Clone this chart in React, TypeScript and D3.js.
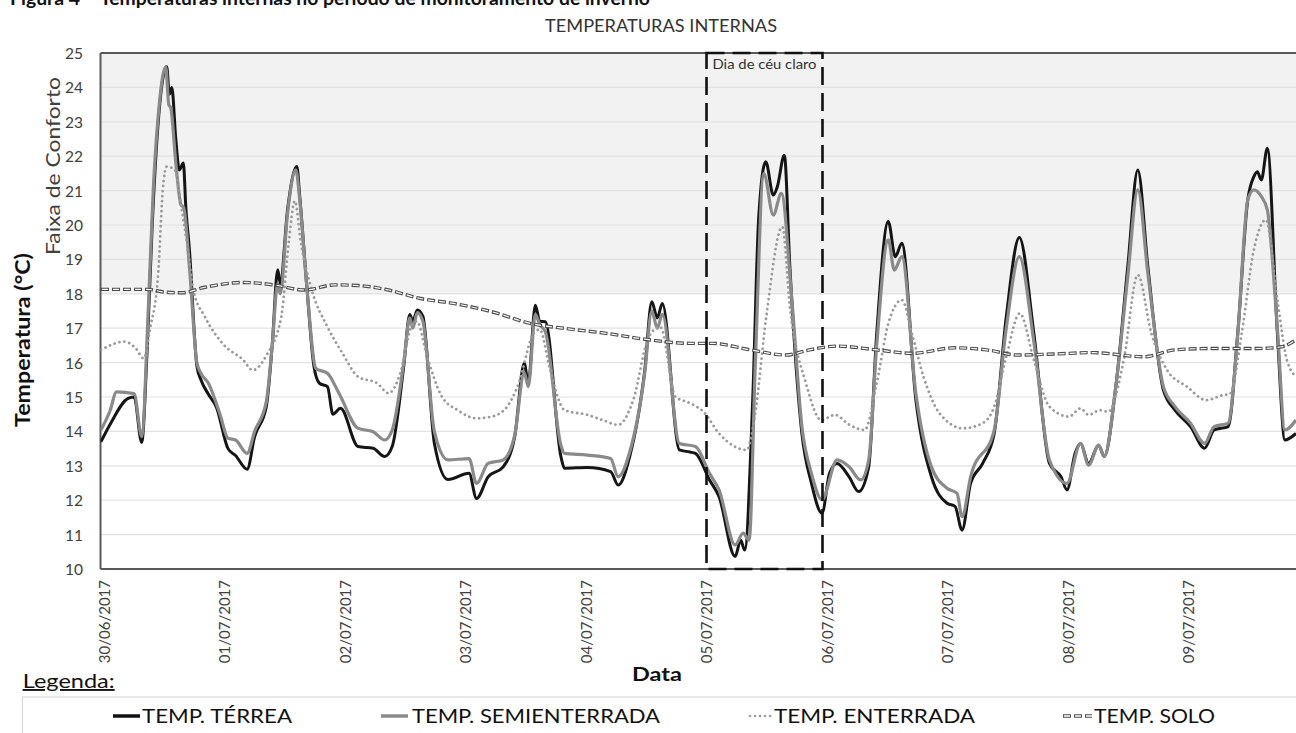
import React from "react";
import * as d3 from "d3";

const W = 1296;
const H = 733;

// Date tick labels (one per day, hours since 30/06/2017 00:00 = index*24)
const dateLabels = [
  "30/06/2017", "01/07/2017", "02/07/2017", "03/07/2017", "04/07/2017",
  "05/07/2017", "06/07/2017", "07/07/2017", "08/07/2017", "09/07/2017",
];
const yTicks = [10, 11, 12, 13, 14, 15, 16, 17, 18, 19, 20, 21, 22, 23, 24, 25];
const comfortMin = 18;
const comfortMax = 25;
// "Dia de céu claro" window, hours since start
const clearDay = [120.6, 143.7];

// [hours since 30/06/2017 00:00, °C]
const terrea: [number, number][] = [
  [0, 13.7], [1.8, 14.2], [5.4, 14.96], [6.6, 15.0], [8.1, 13.68], [9.2, 16.4], [10.2, 20.0],
  [11.4, 23.0], [13.1, 24.6], [13.6, 23.8], [14.1, 24.0], [14.9, 22.5], [15.6, 21.6], [16.4, 21.8],
  [16.9, 20.5], [17.6, 19.3], [19.1, 15.9], [19.9, 15.5], [21.3, 15.1], [23.0, 14.7], [25.3, 13.5],
  [26.8, 13.3], [29.1, 12.9], [30.6, 13.85], [32.9, 14.7], [34.1, 16.5], [35.2, 18.7], [35.7, 18.3],
  [37.2, 20.5], [39.0, 21.7], [39.6, 20.8], [41.0, 18.2], [42.4, 15.9], [43.5, 15.4], [45.1, 15.3],
  [46.2, 14.5], [47.7, 14.67], [51.2, 13.56], [54.2, 13.51], [56.5, 13.27], [58.0, 13.56],
  [60.3, 15.9], [61.5, 17.4], [62.1, 17.2], [63.0, 17.53], [64.1, 17.35], [66.4, 13.65],
  [69.1, 12.6], [73.3, 12.78], [74.8, 12.05], [77.1, 12.68], [80.1, 12.97], [82.4, 13.85],
  [84.3, 15.98], [85.1, 15.4], [86.5, 17.67], [87.4, 17.2], [88.5, 17.19], [91.6, 13.27],
  [92.3, 12.93], [96.9, 12.95], [101.5, 12.83], [103.0, 12.44], [105.3, 13.27], [108.3, 15.78],
  [109.7, 17.77], [110.8, 17.3], [111.8, 17.72], [115.2, 13.46], [117.3, 13.4], [118.4, 13.36],
  [121.2, 12.59], [123.1, 12.1], [126.3, 10.36], [127.4, 10.84], [128.2, 10.55], [129.8, 14.91],
  [131.0, 20.24], [132.4, 21.84], [133.9, 20.87], [134.7, 21.11], [136.1, 22.03], [137.2, 18.79],
  [139.6, 13.94], [141.5, 12.49], [143.6, 11.62], [145.1, 12.78], [146.6, 13.07], [149.0, 12.68],
  [150.9, 12.25], [152.9, 12.97], [154.5, 16.85], [156.8, 20.1], [158.2, 19.08], [159.5, 19.47],
  [162.3, 14.91], [165.4, 12.68], [168.5, 11.91], [170.1, 11.82], [171.5, 11.13], [173.2, 12.49],
  [175.6, 13.07], [177.9, 13.94], [180.3, 17.33], [182.9, 19.64], [185.8, 16.85], [188.9, 13.07],
  [191.2, 12.68], [192.4, 12.3], [194.0, 13.36], [195.1, 13.65], [196.7, 13.07], [198.7, 13.6],
  [199.8, 13.27], [202.2, 15.4], [204.5, 18.79], [206.5, 21.6], [208.5, 18.79], [211.6, 15.2],
  [213.9, 14.62], [217.0, 14.14], [219.8, 13.51], [221.7, 14.04], [224.5, 14.14], [226.4, 16.85],
  [228.4, 20.73], [229.6, 21.4], [230.3, 21.55], [231.1, 21.31], [232.3, 22.23], [234.3, 16.85],
  [235.8, 13.75], [238.0, 13.94],
];

const semienterrada: [number, number][] = [
  [0, 14.04], [1.8, 14.6], [3.1, 15.15], [6.6, 15.1], [8.1, 13.85], [9.4, 17.5], [10.4, 21.0],
  [11.6, 23.5], [12.9, 24.6], [13.5, 23.5], [13.9, 23.4], [14.9, 21.8], [15.9, 20.6], [16.5, 20.5],
  [17.7, 18.6], [19.1, 16.0], [19.9, 15.69], [21.4, 15.4], [23.7, 14.5], [25.3, 13.8], [26.8, 13.75],
  [29.1, 13.36], [30.6, 14.0], [32.9, 14.85], [34.1, 16.5], [35.2, 18.3], [35.7, 18.0], [37.2, 20.4],
  [38.8, 21.6], [39.6, 20.7], [41.0, 18.2], [42.8, 15.83], [45.1, 15.69], [47.4, 15.11], [51.2, 14.09],
  [54.2, 13.99], [56.5, 13.75], [58.0, 14.04], [60.3, 16.0], [61.5, 17.3], [62.1, 17.0], [63.0, 17.45],
  [64.1, 17.2], [66.4, 14.0], [69.1, 13.17], [73.3, 13.21], [74.8, 12.49], [77.1, 13.07], [80.1, 13.17],
  [82.4, 13.9], [84.3, 15.7], [85.1, 15.3], [86.5, 17.4], [87.4, 17.1], [88.5, 16.9], [91.6, 13.6],
  [92.3, 13.36], [96.9, 13.31], [101.5, 13.21], [103.0, 12.68], [105.3, 13.4], [108.3, 15.7],
  [109.7, 17.5], [110.8, 17.0], [111.8, 17.4], [115.2, 13.65], [118.4, 13.56], [121.2, 12.78],
  [123.1, 12.3], [126.3, 10.7], [127.9, 11.04], [129.1, 10.84], [130.3, 15.88], [132.0, 21.5],
  [133.9, 20.29], [135.5, 20.92], [137.6, 17.82], [139.6, 14.14], [141.5, 12.78], [143.6, 12.01],
  [146.6, 13.17], [149.0, 12.97], [151.3, 12.59], [152.9, 13.17], [154.5, 16.5], [156.8, 19.57],
  [158.0, 18.69], [159.5, 19.08], [162.3, 15.1], [165.4, 12.97], [168.5, 12.35], [170.5, 12.2],
  [171.5, 11.52], [173.2, 12.68], [177.9, 14.04], [180.3, 17.0], [182.9, 19.08], [185.8, 16.6],
  [188.9, 13.17], [192.4, 12.49], [195.1, 13.65], [196.7, 13.02], [198.7, 13.6], [199.8, 13.27],
  [202.2, 15.4], [204.5, 18.5], [206.5, 21.02], [208.5, 18.6], [211.6, 15.3], [213.9, 14.72],
  [217.0, 14.24], [219.8, 13.65], [221.7, 14.14], [224.5, 14.24], [226.4, 16.8], [228.4, 20.73],
  [229.6, 21.02], [231.1, 20.83], [232.3, 20.44], [234.3, 17.0], [235.8, 14.04], [238.0, 14.33],
];

const enterrada: [number, number][] = [
  [0, 16.37], [4.7, 16.61], [7.0, 16.4], [8.5, 16.12], [9.8, 17.0], [11.4, 18.6], [12.3, 21.0],
  [13.1, 21.7], [14.7, 21.6], [15.9, 20.6], [17.1, 19.5], [18.4, 18.11], [20.7, 17.33], [24.5, 16.51],
  [28.3, 16.08], [30.2, 15.78], [32.9, 16.2], [35.9, 17.33], [37.4, 19.5], [38.6, 20.7], [39.8, 19.5],
  [42.0, 18.1], [45.1, 17.04], [48.1, 16.27], [51.2, 15.59], [55.0, 15.4], [57.3, 15.11], [59.6, 15.69],
  [61.8, 17.04], [62.9, 17.2], [64.9, 16.2], [67.9, 15.01], [71.0, 14.62], [74.8, 14.38], [77.8, 14.43],
  [80.9, 14.72], [83.2, 15.4], [86.2, 16.86], [87.4, 16.96], [89.3, 15.88], [92.3, 14.62], [96.9, 14.48],
  [99.9, 14.33], [103.0, 14.19], [106.0, 14.91], [109.1, 16.75], [111.4, 17.04], [114.4, 15.01],
  [117.3, 14.82], [120.0, 14.57], [123.1, 13.94], [128.6, 13.46], [130.2, 14.43], [132.5, 17.33],
  [135.7, 19.95], [137.2, 17.62], [140.4, 15.4], [143.5, 14.33], [146.2, 14.48], [149.0, 14.2],
  [152.1, 14.04], [154.5, 15.4], [156.8, 17.13], [159.5, 17.82], [161.5, 16.85], [163.8, 15.6],
  [167.0, 14.53], [171.7, 14.09], [175.6, 14.24], [177.9, 14.72], [180.3, 16.17], [183.0, 17.43],
  [185.8, 16.07], [188.9, 14.72], [192.8, 14.43], [195.1, 14.67], [196.7, 14.48], [199.0, 14.62],
  [200.6, 14.57], [203.7, 16.07], [206.5, 18.55], [209.2, 16.85], [212.3, 15.79], [216.3, 15.3],
  [220.1, 14.91], [223.3, 15.05], [224.9, 15.1], [227.2, 16.85], [229.6, 19.27], [232.0, 20.15],
  [234.3, 17.82], [236.2, 16.07], [238.0, 15.6],
];

const solo: [number, number][] = [
  [0, 18.13], [9.2, 18.13], [12.7, 18.05], [16.1, 18.03], [20.7, 18.19], [28.3, 18.33], [34.4, 18.26],
  [40.5, 18.11], [46.6, 18.26], [51.2, 18.24], [57.3, 18.11], [63.4, 17.87], [70.2, 17.72],
  [77.8, 17.48], [85.5, 17.14], [93.1, 16.98], [100.7, 16.85], [108.3, 16.68], [117.3, 16.56],
  [121.6, 16.56], [129.4, 16.37], [136.4, 16.22], [141.1, 16.37], [146.6, 16.48], [154.5, 16.37],
  [161.5, 16.27], [170.1, 16.43], [176.4, 16.37], [182.6, 16.22], [189.7, 16.25], [197.5, 16.29],
  [207.7, 16.17], [213.9, 16.37], [220.9, 16.41], [230.3, 16.41], [235.1, 16.46], [238.0, 16.66],
];

const legendItems = [
  { label: "TEMP. TÉRREA", kind: "terrea" },
  { label: "TEMP. SEMIENTERRADA", kind: "semi" },
  { label: "TEMP. ENTERRADA", kind: "enterrada" },
  { label: "TEMP. SOLO", kind: "solo" },
];

const FONT = "Lato, 'Open Sans', sans-serif";

export default function App() {
  const plotLeft = 100.5;
  const plotRight = W;
  const plotTop = 53;
  const plotBottom = 569;

  const x = d3.scaleLinear().domain([0, 240]).range([101, 101 + 120.5 * 10]);
  const y = d3.scaleLinear().domain([10, 25]).range([plotBottom, plotTop]);

  const line = d3
    .line<[number, number]>()
    .x((d) => x(d[0]))
    .y((d) => y(d[1]))
    .curve(d3.curveMonotoneX);

  const legendX = [113, 381, 748, 1063];
  const legendTextX = [142, 412, 774, 1094];
  const legendTextLen = [150, 248, 201, 121];
  const legendBaseline = 723;
  const legendMid = 716;

  const legendSwatch = (kind: string, x0: number, yy: number) => {
    const x1 = x0 + 27;
    if (kind === "terrea")
      return <line x1={x0} x2={x1} y1={yy} y2={yy} stroke="#111" strokeWidth={3.5} />;
    if (kind === "semi")
      return <line x1={x0} x2={x1} y1={yy} y2={yy} stroke="#8a8a8a" strokeWidth={3.5} />;
    if (kind === "enterrada")
      return (
        <line x1={x0 + 2} x2={x1} y1={yy} y2={yy} stroke="#9a9a9a" strokeWidth={2.6}
          strokeDasharray="0.01 5" strokeLinecap="round" />
      );
    return (
      <g>
        <line x1={x0} x2={x1 + 2} y1={yy} y2={yy} stroke="#4d4d4d" strokeWidth={3.4} strokeDasharray="8 3" />
        <line x1={x0} x2={x1 + 2} y1={yy} y2={yy} stroke="#fff" strokeWidth={1.3} strokeDasharray="6 5" strokeDashoffset={-1} />
      </g>
    );
  };

  return (
    <svg
      width={W}
      height={H}
      viewBox={`0 0 ${W} ${H}`}
      style={{ position: "absolute", left: 0, top: 0, background: "#fff" }}
      fontFamily={FONT}
    >
      <defs>
        <clipPath id="plotClip">
          <rect x={plotLeft} y={plotTop - 5} width={plotRight - plotLeft} height={plotBottom - plotTop + 6} />
        </clipPath>
      </defs>

      {/* Figure caption (cut at top, as in the source) */}
      <text x={10} y={5} fontSize={18} fontWeight="bold" fill="#111" textLength={70} lengthAdjust="spacingAndGlyphs">Figura 4</text>
      <text x={100} y={5} fontSize={18} fontWeight="bold" fill="#111" textLength={550} lengthAdjust="spacingAndGlyphs">
        Temperaturas internas no período de monitoramento de inverno
      </text>

      {/* Chart title */}
      <text x={545} y={32} fontSize={16.5} fill="#333" textLength={232} lengthAdjust="spacingAndGlyphs">TEMPERATURAS INTERNAS</text>

      {/* comfort band */}
      <rect x={plotLeft} y={y(comfortMax)} width={plotRight - plotLeft} height={y(comfortMin) - y(comfortMax)} fill="#f2f2f2" />

      {/* gridlines */}
      {yTicks.filter((t) => t > 10 && t < 25).map((t) => (
        <line key={t} x1={plotLeft} x2={plotRight} y1={y(t)} y2={y(t)} stroke="#e2e2e2" strokeWidth={1.2} />
      ))}

      {/* plot border */}
      <line x1={plotLeft} x2={plotRight} y1={plotTop} y2={plotTop} stroke="#595959" strokeWidth={2} />
      <line x1={plotLeft} x2={plotRight} y1={plotBottom} y2={plotBottom} stroke="#595959" strokeWidth={2} />
      <line x1={plotLeft} x2={plotLeft} y1={plotTop} y2={plotBottom} stroke="#595959" strokeWidth={2} />

      {/* series */}
      <g clipPath="url(#plotClip)" fill="none" strokeLinejoin="round">
        <path d={line(terrea) || ""} stroke="#151515" strokeWidth={3} />
        <path d={line(semienterrada) || ""} stroke="#8a8a8a" strokeWidth={3.2} />
        <path d={line(enterrada) || ""} stroke="#9a9a9a" strokeWidth={2.8} strokeDasharray="0.01 5" strokeLinecap="round" />
        <path d={line(solo) || ""} stroke="#4d4d4d" strokeWidth={3.4} strokeDasharray="8 3" />
        <path d={line(solo) || ""} stroke="#ffffff" strokeWidth={1.2} strokeDasharray="6 5" strokeDashoffset={-1} />
      </g>

      {/* clear-sky day box */}
      <rect x={x(clearDay[0])} y={plotTop} width={x(clearDay[1]) - x(clearDay[0])} height={plotBottom - plotTop}
        fill="none" stroke="#111" strokeWidth={2.6} strokeDasharray="18 8" />
      <text x={x(clearDay[0]) + 6} y={69} fontSize={14} fill="#333" textLength={104} lengthAdjust="spacingAndGlyphs">Dia de céu claro</text>

      {/* y tick labels */}
      {yTicks.map((t) => (
        <text key={t} x={83} y={y(t)} fontSize={15.5} textAnchor="end" dominantBaseline="central" fill="#404040">{t}</text>
      ))}

      {/* y axis titles */}
      <text transform="translate(60,166) rotate(-90)" fontSize={20} textAnchor="middle" fill="#404040"
        textLength={178} lengthAdjust="spacingAndGlyphs">Faixa de Conforto</text>
      <text transform="translate(30,340) rotate(-90)" fontSize={21} fontWeight="bold" textAnchor="middle" fill="#111"
        textLength={174} lengthAdjust="spacingAndGlyphs">Temperatura (°C)</text>

      {/* x tick labels */}
      {dateLabels.map((lab, i) => (
        <text key={lab} transform={`translate(${x(i * 24) + 2.5},580) rotate(-90)`} fontSize={15}
          textAnchor="end" dominantBaseline="central" fill="#404040">{lab}</text>
      ))}

      {/* x axis title */}
      <text x={632} y={681} fontSize={19} fontWeight="bold" fill="#111" textLength={50} lengthAdjust="spacingAndGlyphs">Data</text>

      {/* legend */}
      <text x={22.7} y={688} fontSize={19} fill="#111" textDecoration="underline" textLength={92} lengthAdjust="spacingAndGlyphs">Legenda:</text>
      <rect x={22.5} y={697} width={W} height={60} fill="#fff" stroke="#d9d9d9" strokeWidth={1.2} />
      {legendItems.map((it, i) => (
        <g key={it.label}>
          {legendSwatch(it.kind, legendX[i], legendMid)}
          <text x={legendTextX[i]} y={legendBaseline} fontSize={19.5} fill="#111"
            textLength={legendTextLen[i]} lengthAdjust="spacingAndGlyphs">{it.label}</text>
        </g>
      ))}
    </svg>
  );
}
